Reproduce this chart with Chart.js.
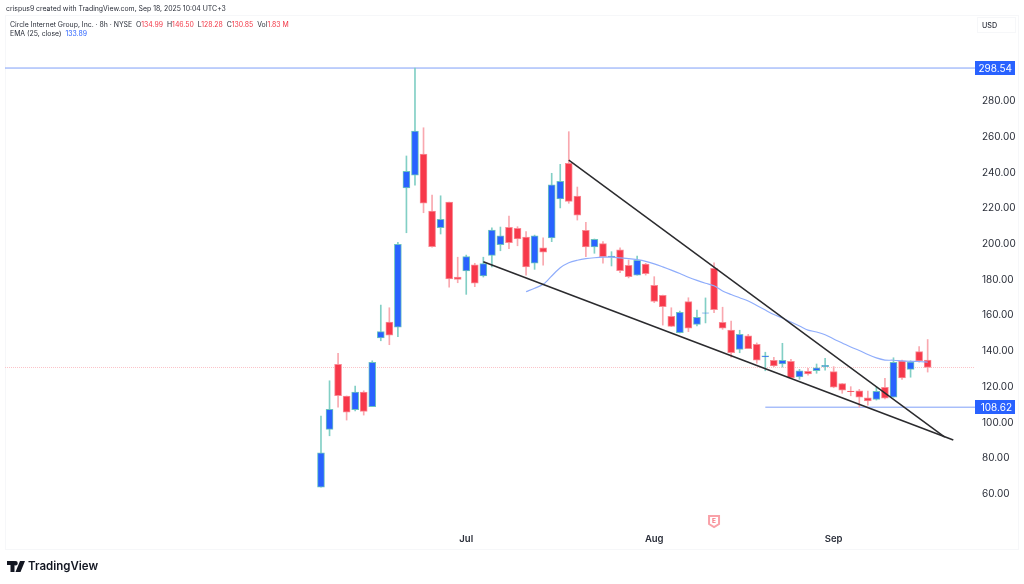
<!DOCTYPE html>
<html>
<head>
<meta charset="utf-8">
<script src="https://cdn.jsdelivr.net/npm/chart.js@4"></script>
<style>
  html, body { margin: 0; padding: 0; background: #fff; }
  #wrap { position: relative; width: 1024px; height: 584px; overflow: hidden; font-family: Inter, sans-serif; color: #2a2e39; }
  #chart { position: absolute; left: 0; top: 0; }
  .txt { position: absolute; white-space: nowrap; }
  .red { color: #f23645; }
  .blue { color: #2962ff; }
  #logo { position: absolute; left: 7px; top: 561px; }
</style>
</head>
<body>
<div id="wrap">
  <canvas id="chart" width="1024" height="584"></canvas>
  <div class="txt" style="left:6px;top:3px;font-size:6.9px;line-height:12px;">crispus9 created with TradingView.com, Sep 18, 2025 10:04 UTC+3</div>
  <div class="txt" style="left:10px;top:18.500px;font-size:6.900px;line-height:12px;">Circle Internet Group, Inc. · 8h · NYSE &nbsp;O<span class="red">134.99</span> &nbsp;H<span class="red">146.50</span> &nbsp;L<span class="red">128.28</span> &nbsp;C<span class="red">130.85</span> &nbsp;Vol<span class="red">1.83 M</span></div>
  <div class="txt" style="left:10px;top:28px;font-size:6.900px;line-height:12px;">EMA (25, close) &nbsp;<span class="blue">133.89</span></div>
  <svg id="logo" width="18" height="11" viewBox="0 0 36 22"><path fill="#131722" d="M0 0h15v22H7V8H0zM26 0h10l-9 22H17zM17 0a4.500 4.500 0 1 1 0 9a4.500 4.500 0 1 1 0-9z"/></svg>
  <div class="txt" style="left:28px;top:558px;font-size:11.5px;line-height:17px;font-weight:600;color:#131722;">TradingView</div>
</div>
<script>
const opens = [63.8,96.2,132.6,114.9,107.2,117.1,108.9,147.4,156.3,153.4,231.4,238.5,250.4,218.5,209.1,223.5,181.5,184.9,188.4,182.1,193.6,199.6,209.4,208.8,203.9,189.2,197.8,203.4,225.2,245.2,226.9,207.7,198.3,200.2,192.7,196.8,188.1,182.6,188.8,176.9,171.3,159.5,150.3,167.7,155.0,161.2,186.4,156.2,151.8,141.0,148.6,143.8,136.7,134.9,132.8,134.3,125.5,128.7,129.0,131.3,128.5,121.8,117.7,117.8,113.8,113.0,119.8,114.2,134.6,129.8,139.7,134.99];
const closes = [83.1,107.4,115.0,105.8,117.1,106.3,133.8,150.9,148.9,199.8,240.7,263.3,222.8,198.5,213.8,180.4,180.2,192.9,178.0,189.0,207.8,204.6,200.7,202.8,187.1,204.6,195.4,233.2,235.1,223.9,216.1,198.3,202.6,192.9,193.3,185.0,181.7,190.9,183.4,167.9,164.9,153.9,161.8,152.8,159.0,161.4,163.2,152.8,139.1,149.4,141.4,135.0,137.4,131.7,134.9,125.0,129.0,127.2,130.7,132.1,119.8,118.2,117.3,114.2,112.1,117.5,113.6,133.8,125.0,133.9,134.5,130.85];
const highs = [103.7,123.4,138.8,114.9,120.5,117.8,134.6,165.8,164.3,201.0,249.3,298.54,265.1,227.4,227.0,223.5,192.6,193.8,189.2,192.6,209.0,209.5,215.7,209.7,206.9,205.0,203.5,239.6,244.6,262.9,231.9,212.2,202.8,201.3,195.7,197.9,191.0,193.3,189.2,181.7,171.4,164.3,162.5,169.9,163.0,169.8,189.5,164.6,156.9,151.7,149.4,144.6,139.4,136.6,144.4,135.4,129.8,130.4,132.8,136.0,131.3,121.9,120.1,118.6,117.7,120.1,124.8,136.3,135.0,134.6,142.5,146.5];
const lows = [63.8,92.6,108.6,101.4,106.5,104.2,108.9,145.8,143.6,148.1,206.3,232.9,217.5,198.2,205.6,175.8,178.3,171.8,176.1,181.5,187.1,196.2,197.4,199.0,182.6,185.8,188.2,201.3,220.2,222.8,213.4,192.9,194.8,189.2,187.7,183.9,181.0,182.6,182.6,167.2,154.6,153.7,150.2,150.9,154.1,155.8,161.5,152.2,136.6,139.1,141.4,133.2,129.0,131.3,131.1,125.0,124.2,126.6,127.6,129.4,119.5,116.4,115.0,108.62,109.8,112.6,113.2,114.2,124.2,125.4,133.8,128.28];
// EMA only starts at candle 24
const emaStart = 24;
const emaValues = [173.3,175.2,177.4,182.1,186.7,189.5,190.9,191.8,192.3,192.6,192.6,192.2,191.8,191.2,190.3,188.9,187.2,185.4,183.5,181.4,179.6,178.0,176.6,173.7,171.7,169.9,168.1,165.6,163.0,160.5,158.6,156.3,154.1,151.8,150.7,149.2,146.8,144.6,142.3,140.4,138.1,136.2,135.0,134.9,134.5,134.3,134.2,133.89];
const upperWedge = [{x:29,y:247},{x:73,y:91.9}];
const lowerWedge = [{x:19,y:190.1},{x:74,y:90.2}];
const priceTicks = [60,80,100,120,140,160,180,200,220,240,260,280];
const monthTicks = [17,39,60];
const monthLabels = ['Jul','Aug','Sep'];
const highLevel = 298.54;
const lowLevel = 108.62;
const lastClose = 130.85;
const earningsBar = 46;

const xMin = -36.98, xMax = 76.54;
const isUp = opens.map((o, i) => closes[i] >= o);
const candleColor = (up, dn) => isUp.map(u => u ? up : dn);

const levelPlugin = {
  id: 'levels',
  beforeDraw(chart) {
    // pane frame
    const c = chart.ctx;
    c.save();
    c.strokeStyle = '#f6f7f9';
    c.lineWidth = 1;
    c.strokeRect(5.5, 15.5, 1013, 534);
    c.restore();
  },
  afterDraw(chart) {
    const c = chart.ctx, y = chart.scales.y, x = chart.scales.x;
    c.save();
    // price tags on the axis
    [highLevel, lowLevel].forEach(v => {
      const py = Math.round(y.getPixelForValue(v));
      c.fillStyle = '#2962ff';
      c.fillRect(975, py - 7, 40, 14);
      c.fillStyle = '#fff';
      c.font = '10px Inter, sans-serif';
      c.textAlign = 'right';
      c.textBaseline = 'middle';
      c.fillText(v.toFixed(2), 1012, py + 0.5);
    });
    // USD box
    c.strokeStyle = '#f6f7f9';
    c.strokeRect(977.5, 17.5, 38, 15);
    c.fillStyle = '#2a2e39';
    c.font = '500 7.2px Inter, sans-serif';
    c.textAlign = 'left';
    c.fillText('USD', 982, 25.5);
    // earnings flag
    const ex = x.getPixelForValue(earningsBar), ey = 521;
    c.strokeStyle = '#f9a1a8';
    c.lineWidth = 2;
    c.beginPath();
    c.moveTo(ex - 5, ey - 5); c.lineTo(ex + 5, ey - 5); c.lineTo(ex + 5, ey + 3);
    c.lineTo(ex, ey + 6); c.lineTo(ex - 5, ey + 3); c.closePath();
    c.stroke();
    c.fillStyle = '#f7737e';
    c.font = 'bold 6.5px Inter, sans-serif';
    c.textAlign = 'center';
    c.fillText('E', ex, ey);
    c.restore();
  }
};

new Chart(document.getElementById('chart'), {
  data: {
    datasets: [
      { type: 'line', data: [{x:xMin,y:lastClose},{x:xMax,y:lastClose}], borderColor: '#fbc4c9', borderWidth: 1, borderDash: [1,1], pointRadius: 0, order: 6 },
      { type: 'line', data: [{x:xMin,y:highLevel},{x:xMax,y:highLevel}], borderColor: '#7f9ff8', borderWidth: 1, pointRadius: 0, order: 6 },
      { type: 'line', data: [{x:52,y:lowLevel},{x:xMax,y:lowLevel}], borderColor: '#7f9ff8', borderWidth: 1, pointRadius: 0, order: 6 },
      { type: 'bar', data: opens.map((o, i) => ({x:i, y:[lows[i], highs[i]]})), backgroundColor: candleColor('#82cfc5','#f9a8af'), barThickness: 1, grouped: false, order: 5 },
      { type: 'bar', data: opens.map((o, i) => ({x:i, y:[o, closes[i]]})), backgroundColor: candleColor('#2962ff','#f7384a'), borderColor: candleColor('#6cc3bf','#f98a94'), borderWidth: 1, borderSkipped: false, barThickness: 7, grouped: false, order: 4 },
      { type: 'line', data: emaValues.map((v, i) => ({x:emaStart+i, y:v})), borderColor: '#8fadfb', borderWidth: 1.2, pointRadius: 0, tension: 0.3, order: 3 },
      { type: 'line', data: upperWedge, borderColor: '#2b2b2e', borderWidth: 1.5, pointRadius: 0, order: 2 },
      { type: 'line', data: lowerWedge, borderColor: '#2b2b2e', borderWidth: 1.5, pointRadius: 0, order: 2 }
    ]
  },
  options: {
    responsive: false,
    animation: false,
    devicePixelRatio: 1,
    layout: { padding: { left: 5, top: 15, right: 6, bottom: 34 } },
    plugins: { legend: { display: false }, tooltip: { enabled: false } },
    scales: {
      x: {
        type: 'linear', min: xMin, max: xMax, offset: false,
        grid: { display: false, drawTicks: false },
        border: { display: false },
        afterFit(s) { s.height = 20; },
        afterBuildTicks(s) { s.ticks = monthTicks.map(v => ({ value: v })); },
        ticks: {
          maxRotation: 0, autoSkip: false, padding: 3,
          color: '#2a2e39', font: { family: 'Inter, sans-serif', size: 9.5, weight: '600' },
          callback: v => monthLabels[monthTicks.indexOf(v)]
        }
      },
      y: {
        position: 'right', min: 39.84, max: 328.24,
        grid: { display: false, drawTicks: false },
        border: { display: false },
        afterFit(s) { s.width = 43; },
        afterBuildTicks(s) { s.ticks = priceTicks.map(v => ({ value: v })); },
        ticks: {
          autoSkip: false, padding: 7,
          color: '#2a2e39', font: { family: 'Inter, sans-serif', size: 10 },
          callback: v => v.toFixed(2)
        }
      }
    }
  },
  plugins: [levelPlugin]
});
</script>
</body>
</html>
